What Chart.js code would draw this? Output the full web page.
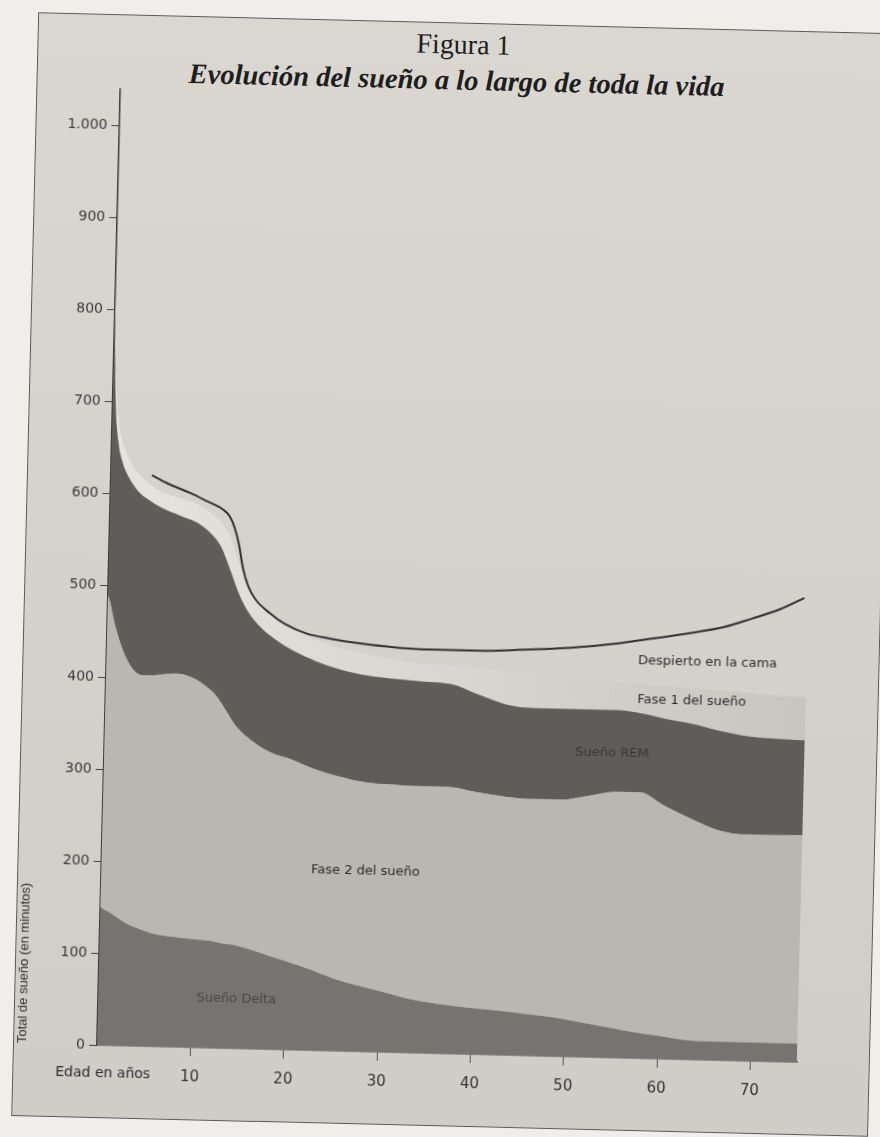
<!DOCTYPE html>
<html lang="es">
<head>
<meta charset="utf-8">
<title>Figura 1</title>
<script src="https://cdn.jsdelivr.net/npm/chart.js@4/dist/chart.umd.min.js"></script>
<style>
html,body{margin:0;padding:0;background:#efeeeb;width:880px;height:1137px;overflow:hidden}
#page{position:absolute;left:0;top:0;width:880px;height:1137px;transform-origin:97px 1045px;transform:rotate(1.4deg)}
#frame{position:absolute;left:13px;top:14px;width:855px;height:1102px;border:1.5px solid #5a5855;background:linear-gradient(#dad7d1,#d0cdc7)}
#fig{position:absolute;left:0;top:22px;width:878px;text-align:center;font:28px/1 "Liberation Serif",serif;color:#1e1e1e}
#sub{position:absolute;left:0;top:58px;width:866px;text-align:center;font:italic bold 28.5px/1 "Liberation Serif",serif;color:#1e1e1e}
#box{position:absolute;left:0;top:60px;width:830px;height:1060px}
</style>
</head>
<body>
<div id="page">
<div id="frame"></div>
<div id="fig">Figura 1</div>
<div id="sub">Evolución del sueño a lo largo de toda la vida</div>
<div id="box"><canvas id="chartSleep"></canvas></div>
</div>
<script>
// edad en años
const ages = [0,0.3,0.7,1.2,2,3,4,5.5,7.5,9.5,11,12,13,14,15,16.5,18,20,22.5,25,28,31,34,37,40,43,46,49,52,55,57.5,60,63,66,69,72,75];

// minutos de cada fase (se apilan)
const delta = [150,148,146,143,138,132,128,123,120,118,117,116,114,113,111,107,102,96,88,79,71,64,57,53,50,48,45,42,37,32,28,25,21,20,20,20,20];
const fase2 = [340,332,316,302,286,276,275,281,286,283,274,265,252,238,230,223,220,220,218,220,222,227,233,237,235,233,234,237,247,257,261,251,241,230,226,226,227];
const rem = [310,225,196,190,193,195,192,182,172,169,167,164,155,144,135,128,124,118,117,116,116,115,114,112,106,100,99,99,94,89,86,94,103,108,107,105,103];
const fase1 = [12,20,22,21,20,19,18,17,19,20,22,26,34,32,28,26,23,22,23,23,23,21,19,21,29,37,38,36,33,30,32,36,39,44,47,47,47];

// tiempo total en la cama (curva negra)
const bedAges = [4.4,6,8.5,10,12.2,12.8,13.4,13.9,14.4,15,15.8,17.4,19,21.4,24,26.8,30,33.6,36.8,40,44.3,50,55,58,62,66,69,72,74.6];
const bedTime = [621,613,603,596,585,579,566,548,522,503,489,474,463,453,448,444,441,439,439,439,441,445,451,456,463,471,481,492,505];

const xTicks = [10,20,30,40,50,60,70];
const yTicks = [0,100,200,300,400,500,600,700,800,900,1000];
const yTickLabels = ['0','100','200','300','400','500','600','700','800','900','1.000'];

function pts(xs,ys){
return xs.map((a,i)=>({x:a,y:ys[i]}));
}

/* rotulos dentro del grafico */
const spots = [
{text:'Sueño Delta',age:14.8,min:54,color:'#4a4745'},
{text:'Fase 2 del sueño',age:28.3,min:196,color:'#2c2c2c'},
{text:'Sueño REM',age:54.4,min:331,color:'#3a3836'},
{text:'Fase 1 del sueño',age:62.8,min:390,color:'#2c2c2c'},
{text:'Despierto en la cama',age:64.4,min:432,color:'#2c2c2c'}
];

const stageText = {
id:'stageText',
afterDatasetsDraw(chart){
const {ctx,chartArea:a} = chart;
const x = chart.scales.x, y = chart.scales.y;
ctx.save();
ctx.font = '13px "DejaVu Sans"';
ctx.textAlign = 'center';
ctx.textBaseline = 'middle';
spots.forEach(s=>{
ctx.fillStyle = s.color;
ctx.fillText(s.text,x.getPixelForValue(s.age),y.getPixelForValue(s.min));
});
ctx.font = '14px "DejaVu Sans"';
ctx.fillStyle = '#2a2a2a';
ctx.textAlign = 'left';
ctx.fillText('Edad en años',a.left-41,a.bottom+28);
ctx.restore();
}
};

function fase1Fill(c){
const a = c.chart.chartArea;
if(!a) return '#d3d0cb';
const g = c.chart.ctx.createLinearGradient(a.left,0,a.right,0);
g.addColorStop(0,'#e6e3de');
g.addColorStop(0.5,'#d9d6d1');
g.addColorStop(1,'#c8c5bf');
return g;
}

const area = {pointRadius:0,borderWidth:0,cubicInterpolationMode:'monotone',order:1};

new Chart(document.getElementById('chartSleep'),{
type:'line',
data:{
datasets:[
{...area,label:'Sueño Delta',data:pts(ages,delta),backgroundColor:'#777371',fill:'origin'},
{...area,label:'Fase 2 del sueño',data:pts(ages,fase2),backgroundColor:'#bab7b2',fill:'-1'},
{...area,label:'Sueño REM',data:pts(ages,rem),backgroundColor:'#5f5c5a',fill:'-1'},
{...area,label:'Fase 1 del sueño',data:pts(ages,fase1),backgroundColor:fase1Fill,fill:'-1'},
{label:'Despierto en la cama',data:pts(bedAges,bedTime),stack:'bed',fill:false,
borderColor:'#2f2f2f',borderWidth:2,pointRadius:0,cubicInterpolationMode:'monotone',order:0}
]
},
options:{
responsive:true,
maintainAspectRatio:false,
animation:false,
layout:{padding:{left:15,right:33,top:29,bottom:20}},
plugins:{legend:{display:false},tooltip:{enabled:false}},
scales:{
x:{
type:'linear',
min:0,max:75,
afterBuildTicks:s=>{s.ticks = xTicks.map(v=>({value:v}));},
afterFit:s=>{s.height = 55;},
grid:{drawOnChartArea:false,drawTicks:true,tickLength:9,color:'#555'},
border:{display:true,color:'#4a4a4a',width:1.5},
ticks:{padding:12,color:'#333',font:{family:'DejaVu Sans',size:15},maxRotation:0}
},
y:{
stacked:true,
min:0,max:1040,
afterBuildTicks:s=>{s.ticks = yTicks.map(v=>({value:v}));},
afterFit:s=>{s.width = 82;},
grid:{drawOnChartArea:false,drawTicks:true,tickLength:8,color:'#444'},
border:{display:true,color:'#3c3c3c',width:1.5},
ticks:{padding:4,color:'#3a3a3a',font:{family:'DejaVu Sans',size:14},
callback:(v,i)=>yTickLabels[i]},
title:{display:true,text:'Total de sueño (en minutos)',align:'start',color:'#333',
font:{family:'Liberation Sans',size:13},padding:{top:0,bottom:4}}
}
}
},
plugins:[stageText]
});
</script>
</body>
</html>
